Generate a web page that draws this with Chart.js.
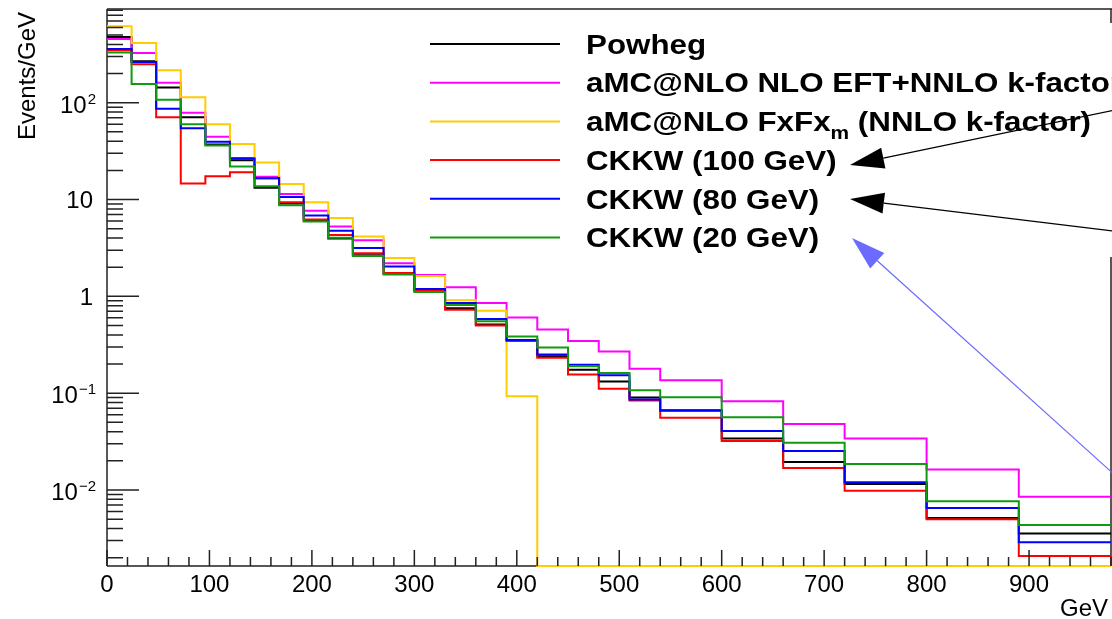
<!DOCTYPE html>
<html>
<head>
<meta charset="utf-8">
<script src="https://cdn.jsdelivr.net/npm/chart.js@4.4.1/dist/chart.umd.min.js"></script>
<style>
  html, body { margin: 0; padding: 0; background: #fff; }
  canvas { display: block; }
</style>
</head>
<body>
<canvas id="hist" width="1112" height="619"></canvas>
<script>
// bin edges in GeV (variable binning)
const binEdges = [0, 24, 48, 72, 96, 120, 144, 168, 192, 216, 240, 270, 300, 330, 360,
                  390, 420, 450, 480, 510, 540, 600, 660, 720, 800, 890, 980];

// Events/GeV per bin
const powheg   = [477, 268, 144, 70.8, 37, 25.5, 13.2, 9.1, 6.1, 3.95, 2.66, 1.7, 1.14, 0.753, 0.511,
                  0.353, 0.24, 0.175, 0.132, 0.0901, 0.0667, 0.0341, 0.0194, 0.0115, 0.00514, 0.00355];
const amcEft   = [455, 326, 161, 78.9, 44.4, 26.8, 17.2, 11.4, 7.65, 5.28, 3.79, 2.2, 1.66, 1.24, 0.853,
                  0.603, 0.454, 0.345, 0.27, 0.179, 0.136, 0.0826, 0.0479, 0.0341, 0.0163, 0.00851];
const amcFxFx  = [618, 414, 217, 113.6, 60, 37.4, 24.2, 14.5, 9.38, 6.43, 4.14, 2.49, 1.62, 0.91, 0.711,
                  0.093, 0, 0, 0, 0, 0, 0, 0, 0, 0, 0];
const ckkw100  = [348, 250, 70.8, 14.6, 17.4, 19.1, 16.5, 9.4, 6.23, 4.3, 2.79, 1.74, 1.16, 0.728, 0.499,
                  0.345, 0.232, 0.156, 0.111, 0.084, 0.0557, 0.032, 0.0169, 0.0098, 0.00499, 0.00208];
const ckkw80   = [359, 264, 86.7, 54.6, 39.5, 26.6, 16.7, 10.6, 6.85, 4.77, 3.16, 2.03, 1.19, 0.853, 0.585,
                  0.355, 0.251, 0.196, 0.153, 0.0859, 0.0658, 0.0406, 0.0253, 0.012, 0.00652, 0.00289];
const ckkw20   = [330, 156, 107, 60, 36.1, 22, 13.7, 8.74, 5.94, 4.04, 2.61, 1.68, 1.11, 0.814, 0.553,
                  0.385, 0.296, 0.19, 0.162, 0.107, 0.0907, 0.0565, 0.0308, 0.0185, 0.00764, 0.00436];

const seriesLabels = ['Powheg', 'aMC@NLO NLO EFT+NNLO k-factor', 'aMC@NLO FxFx_{m} (NNLO k-factor)',
                      'CKKW (100 GeV)', 'CKKW (80 GeV)', 'CKKW (20 GeV)'];
const seriesData   = [powheg, amcEft, amcFxFx, ckkw100, ckkw80, ckkw20];
const seriesColors = ['#000000', '#ff00ff', '#ffcc00', '#ff0000', '#0000ff', '#119911'];

const xTicks = [0, 100, 200, 300, 400, 500, 600, 700, 800, 900];
const yTicks = [0.01, 0.1, 1, 10, 100];
const yTickBase = ['10', '10', '1', '10', '10'];
const yTickExp  = ['\u22122', '\u22121', '', '', '2'];

const X_MIN = 0, X_MAX = 980;
const Y_MIN = 0.00164, Y_MAX = 929;

const FONT = '"Liberation Sans", Arial, Helvetica, sans-serif';

// histogram outline: one point per left bin edge, plus the closing right edge
// empty bins sit on the axis floor, like ROOT does on a log scale
function histPoints(values) {
  const pts = values.map((v, i) => ({ x: binEdges[i], y: v > 0 ? v : Y_MIN }));
  pts.push({ x: binEdges[binEdges.length - 1], y: pts[pts.length - 1].y });
  return pts;
}

function drawArrow(ctx, x0, y0, x1, y1, color, width, headLen, headHalf) {
  const a = Math.atan2(y1 - y0, x1 - x0);
  const bx = x1 - headLen * Math.cos(a), by = y1 - headLen * Math.sin(a);
  ctx.save();
  ctx.strokeStyle = color;
  ctx.fillStyle = color;
  ctx.lineWidth = width;
  ctx.beginPath();
  ctx.moveTo(x0, y0);
  ctx.lineTo(bx, by);
  ctx.stroke();
  ctx.beginPath();
  ctx.moveTo(x1, y1);
  ctx.lineTo(bx + headHalf * Math.sin(a), by - headHalf * Math.cos(a));
  ctx.lineTo(bx - headHalf * Math.sin(a), by + headHalf * Math.cos(a));
  ctx.closePath();
  ctx.fill();
  ctx.restore();
}

// bold legend text, a bit wider than Liberation, with optional _{sub} part
function drawRichText(ctx, text, x, y, size) {
  const parts = text.split(/(_\{[^}]*\})/);
  ctx.save();
  ctx.translate(x, y);
  ctx.scale(1.16, 1);
  let cx = 0;
  parts.forEach(p => {
    if (!p) return;
    if (p.startsWith('_{')) {
      const s = p.slice(2, -1);
      ctx.font = 'bold ' + Math.round(size * 0.65) + 'px ' + FONT;
      ctx.fillText(s, cx, size * 0.28);
      cx += ctx.measureText(s).width;
    } else {
      ctx.font = 'bold ' + size + 'px ' + FONT;
      ctx.fillText(p, cx, 0);
      cx += ctx.measureText(p).width;
    }
  });
  ctx.restore();
}

const rootStyle = {
  id: 'rootStyle',
  beforeDatasetsDraw(chart) {
    const { ctx, chartArea: a } = chart;
    ctx.save();
    ctx.strokeStyle = '#222';
    ctx.lineWidth = 1.5;
    ctx.beginPath();
    ctx.moveTo(a.left, a.top); ctx.lineTo(chart.width, a.top);
    ctx.moveTo(a.left, a.top); ctx.lineTo(a.left, a.bottom);
    ctx.moveTo(a.left, a.bottom); ctx.lineTo(a.right, a.bottom);
    // right frame, hidden behind the legend box
    ctx.moveTo(a.right, a.top); ctx.lineTo(a.right, 23);
    ctx.moveTo(a.right, 257); ctx.lineTo(a.right, a.bottom);
    ctx.stroke();
    ctx.restore();
  },
  afterDatasetsDraw(chart) {
    const { ctx, chartArea: a } = chart;
    const xs = chart.scales.x, ys = chart.scales.y;
    ctx.save();
    ctx.strokeStyle = '#222';
    ctx.lineWidth = 1.5;
    ctx.beginPath();
    // x ticks: majors every 100, minors every 20
    for (let v = X_MIN; v <= X_MAX; v += 20) {
      const px = xs.getPixelForValue(v);
      const len = v % 100 === 0 ? 16 : 9;
      ctx.moveTo(px, a.bottom); ctx.lineTo(px, a.bottom - len);
    }
    // y ticks: decades and 2..9 minors
    for (let e = -3; e <= 3; e++) {
      for (let k = 1; k <= 9; k++) {
        const v = k * Math.pow(10, e);
        if (v < Y_MIN || v > Y_MAX) continue;
        const py = ys.getPixelForValue(v);
        const len = k === 1 ? 32 : 16;
        ctx.moveTo(a.left, py); ctx.lineTo(a.left + len, py);
      }
    }
    ctx.stroke();

    // tick labels
    ctx.fillStyle = '#000';
    ctx.font = '24px ' + FONT;
    ctx.textAlign = 'center';
    ctx.textBaseline = 'alphabetic';
    xTicks.forEach(v => ctx.fillText(String(v), xs.getPixelForValue(v), a.bottom + 26));

    yTicks.forEach((v, i) => {
      const py = ys.getPixelForValue(v);
      const exp = yTickExp[i];
      ctx.textAlign = 'right';
      if (exp) {
        ctx.font = '15px ' + FONT;
        const ew = ctx.measureText(exp).width;
        ctx.fillText(exp, 96, py + 1);
        ctx.font = '24px ' + FONT;
        ctx.fillText(yTickBase[i], 96 - ew - 1, py + 10);
      } else {
        ctx.font = '24px ' + FONT;
        ctx.fillText(yTickBase[i], 93, py + 8.5);
      }
    });

    // axis titles
    ctx.font = '24px ' + FONT;
    ctx.textAlign = 'right';
    ctx.fillText('GeV', a.right - 3, chart.height - 3);
    ctx.save();
    ctx.translate(35, a.top + 3);
    ctx.rotate(-Math.PI / 2);
    ctx.fillText('Events/GeV', 0, 0);
    ctx.restore();

    // legend
    const rowY0 = 44, rowStep = 38.7, size = 27;
    seriesLabels.forEach((label, i) => {
      const y = rowY0 + i * rowStep;
      ctx.strokeStyle = seriesColors[i];
      ctx.lineWidth = 2;
      ctx.beginPath();
      ctx.moveTo(430, y); ctx.lineTo(560, y);
      ctx.stroke();
      ctx.fillStyle = '#000';
      ctx.textAlign = 'left';
      drawRichText(ctx, label, 586, y + size * 0.36, size);
    });

    // arrows pointing at the CKKW entries
    drawArrow(ctx, 1130, 107, 850, 165, '#000', 1.2, 34, 10.5);
    drawArrow(ctx, 1130, 233, 850, 199, '#000', 1.2, 34, 10.5);
    drawArrow(ctx, 1128, 487, 852, 238, '#6b6bff', 1.2, 34, 10.5);
    ctx.restore();
  }
};

new Chart(document.getElementById('hist'), {
  type: 'line',
  data: {
    datasets: seriesData.map((vals, i) => ({
      label: seriesLabels[i],
      data: histPoints(vals),
      borderColor: seriesColors[i],
      borderWidth: 2,
      stepped: 'before',
      pointRadius: 0,
      fill: false,
      clip: false,
      order: seriesData.length - i
    }))
  },
  options: {
    responsive: false,
    animation: false,
    events: [],
    layout: { padding: { left: 107, right: 1, top: 9, bottom: 53 } },
    plugins: { legend: { display: false }, tooltip: { enabled: false } },
    scales: {
      x: { type: 'linear', min: X_MIN, max: X_MAX, display: false },
      y: { type: 'logarithmic', min: Y_MIN, max: Y_MAX, display: false }
    }
  },
  plugins: [rootStyle]
});
</script>
</body>
</html>
